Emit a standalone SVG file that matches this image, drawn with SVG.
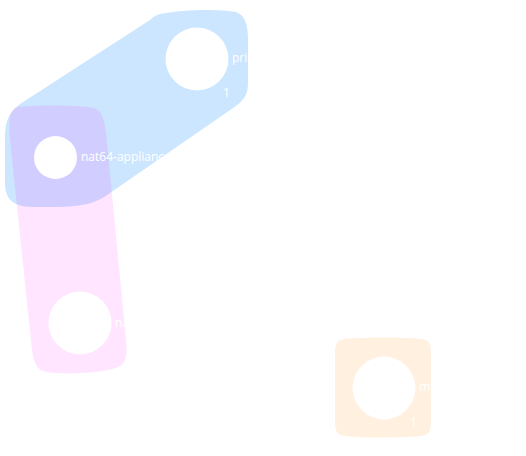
<svg xmlns="http://www.w3.org/2000/svg" width="526" height="456" viewBox="0 0 526 456">
<style>
.blob{stroke:none}
.node{fill:#ffffff}
.lbl{font-family:"Open Sans","Noto Sans",sans-serif;font-size:12px;fill:#ffffff}
</style>
<rect width="526" height="456" fill="#ffffff"/>
<g id="groups">
<path id="grp-blue" class="blob" fill="#0080ff" fill-opacity="0.2" d="M 160,14 C 185,9 220,9 236,12 C 245,15 248,24 248,40 L 248,82 C 248,94 245,99 236,106 L 110,193 C 98,202 88,206 60,207 L 32,207 C 13,206 6,200 5,185 L 5,140 C 5,122 8,113 20,104 L 150,20 C 153,17 156,15 160,14 Z"/>
<path id="grp-pink" class="blob" fill="#ff00ff" fill-opacity="0.1" d="M 18,107 C 40,105 78,105 94,108 C 102,111 104,118 106,132 L 126,340 C 128,360 125,366 112,369 C 92,374 62,374 46,372 C 37,370 34,364 32,350 L 10,140 C 8,118 10,109 18,107 Z"/>
<path id="grp-orange" class="blob" fill="#ff8000" fill-opacity="0.12" d="M 345,339 C 370,337 400,337 422,339 C 430,340 431,345 431,355 L 431,420 C 431,432 429,435 420,436 C 395,438 365,438 345,436 C 337,435 335,432 335,420 L 335,355 C 335,343 337,340 345,339 Z"/>
</g>
<g id="connectors"></g>
<g id="node-pri">
<circle class="node" cx="197" cy="59" r="31.5"/>
<text class="lbl" x="232" y="62">pri</text>
<text class="lbl" x="223" y="97">1</text>
</g>
<g id="node-nat64">
<circle class="node" cx="55.5" cy="157.5" r="21.5"/>
<text class="lbl" x="81" y="161">nat64-appliance</text>
</g>
<g id="node-na">
<circle class="node" cx="80" cy="323" r="31.5"/>
<text class="lbl" x="115" y="327">na</text>
</g>
<g id="node-my">
<circle class="node" cx="384" cy="388" r="31.5"/>
<text class="lbl" x="419" y="391">my</text>
<text class="lbl" x="410" y="427">1</text>
</g>
</svg>
